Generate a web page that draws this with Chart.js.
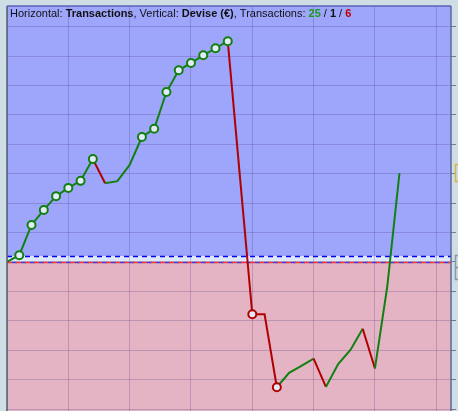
<!DOCTYPE html>
<html>
<head>
<meta charset="utf-8">
<script src="https://cdn.jsdelivr.net/npm/chart.js@4.4.1/dist/chart.umd.min.js"></script>
<style>
html,body{margin:0;padding:0;background:#cedee4;overflow:hidden;}
canvas{display:block;}
</style>
</head>
<body>
<canvas id="c" width="458" height="411"></canvas>
<script>
// Transaction index (horizontal axis)
const transactions = [0,1,2,3,4,5,6,7,8,9,10,11,12,13,14,15,16,17,18,19,20,21,22,23,24,25,26,27,28,29,30,31,32];
// Cumulative result in Devise (€) after each transaction
const equity = [0,23,126,177,224,252,276,350,268,275,330,425,453,578,652,677,703,727,751,286,-178,-178,-426,-377,-353,-329,-425,-347,-299,-227,-362,-85,302];
// Reference level (blue dashed line)
const referenceLevel = 20;
// Title summary: wins / break-even / losses
const titleParts = [
  {t:'Horizontal: ', b:false, c:'#111'},
  {t:'Transactions', b:true, c:'#111'},
  {t:', Vertical: ', b:false, c:'#111'},
  {t:'Devise (€)', b:true, c:'#111'},
  {t:', Transactions: ', b:false, c:'#111'},
  {t:'25', b:true, c:'#1a9a1a'},
  {t:' / ', b:false, c:'#111'},
  {t:'1', b:true, c:'#111'},
  {t:' / ', b:false, c:'#111'},
  {t:'6', b:true, c:'#c00000'}
];

const GREEN = '#118011';
const RED = '#b00000';

// markers: new running highs (green) and new running lows (red)
const markerType = equity.map((v, i) => {
  if (i === 0) return 0;
  const prev = equity.slice(0, i);
  if (v > Math.max(...prev)) return 1;
  if (v < Math.min(...prev)) return -1;
  return 0;
});

const bgPlugin = {
  id: 'bg',
  beforeDraw(chart) {
    const {ctx, chartArea:a} = chart;
    const y = chart.scales.y;
    const y0 = y.getPixelForValue(0);
    const yr = y.getPixelForValue(referenceLevel);
    ctx.save();
    ctx.fillStyle = '#cedee4';
    ctx.fillRect(0, 0, chart.width, chart.height);
    ctx.fillStyle = 'rgb(158,166,252)';
    ctx.fillRect(a.left, a.top, a.right - a.left, yr - a.top);
    ctx.fillStyle = 'rgb(222,232,250)';
    ctx.fillRect(a.left, yr, a.right - a.left, y0 - yr);
    ctx.fillStyle = 'rgb(228,180,196)';
    ctx.fillRect(a.left, y0, a.right - a.left, a.bottom - y0);
    ctx.restore();
  },
  beforeDatasetsDraw(chart) {
    const {ctx, chartArea:a} = chart;
    const y = chart.scales.y;
    const y0 = Math.round(y.getPixelForValue(0)) + 0.5;
    const yr = Math.round(y.getPixelForValue(referenceLevel)) + 0.5;
    ctx.save();
    ctx.lineWidth = 1.5;
    ctx.setLineDash([5,4]);
    ctx.strokeStyle = '#0000ee';
    ctx.beginPath(); ctx.moveTo(a.left, yr); ctx.lineTo(a.right, yr); ctx.stroke();
    ctx.strokeStyle = '#3b3bdc';
    ctx.lineDashOffset = 4;
    ctx.beginPath(); ctx.moveTo(a.left, y0); ctx.lineTo(a.right, y0); ctx.stroke();
    ctx.strokeStyle = '#ff3030';
    ctx.lineDashOffset = 0;
    ctx.beginPath(); ctx.moveTo(a.left, y0); ctx.lineTo(a.right, y0); ctx.stroke();
    ctx.restore();
  },
  afterDraw(chart) {
    const {ctx, chartArea:a} = chart;
    ctx.save();
    // borders
    ctx.lineWidth = 1.5;
    ctx.strokeStyle = '#55606e';
    ctx.beginPath(); ctx.moveTo(a.left, a.top); ctx.lineTo(a.left, chart.height); ctx.stroke();
    ctx.strokeStyle = '#5a62b8';
    ctx.beginPath(); ctx.moveTo(a.left, a.top); ctx.lineTo(a.right, a.top); ctx.stroke();
    ctx.strokeStyle = '#5a6a98';
    ctx.beginPath(); ctx.moveTo(a.right, a.top); ctx.lineTo(a.right, chart.height); ctx.stroke();
    // clipped value labels on the right edge
    const y = chart.scales.y;
    const yl = y.getPixelForValue(equity[equity.length - 1]);
    ctx.lineWidth = 1.5;
    ctx.strokeStyle = '#d8b440';
    ctx.fillStyle = '#cedee4';
    ctx.strokeRect(455.5, Math.round(yl) - 8.5, 12, 17);
    const y0 = y.getPixelForValue(0);
    ctx.strokeStyle = '#8a98a4';
    ctx.strokeRect(455.5, Math.round(y0) - 6.5, 12, 12);
    ctx.strokeRect(455.5, Math.round(y0) + 5.5, 12, 12);
    // title
    let x = 10;
    ctx.textBaseline = 'alphabetic';
    for (const p of titleParts) {
      ctx.font = (p.b ? 'bold ' : '') + '11px "Liberation Sans", Arial, sans-serif';
      ctx.fillStyle = p.c;
      ctx.fillText(p.t, x, 17);
      x += ctx.measureText(p.t).width;
    }
    ctx.restore();
  }
};

new Chart(document.getElementById('c'), {
  type: 'line',
  data: {
    datasets: [{
      data: transactions.map((t, i) => ({x: t, y: equity[i]})),
      borderWidth: 2,
      tension: 0,
      segment: {
        borderColor: c => c.p1.parsed.y > c.p0.parsed.y ? GREEN : RED
      },
      borderColor: GREEN,
      pointRadius: c => markerType[c.dataIndex] !== 0 ? 4 : 0,
      pointHoverRadius: c => markerType[c.dataIndex] !== 0 ? 4 : 0,
      pointBackgroundColor: '#e4eaf8',
      pointBorderColor: c => markerType[c.dataIndex] < 0 ? RED : GREEN,
      pointBorderWidth: 2
    }]
  },
  options: {
    responsive: false,
    animation: false,
    events: [],
    layout: { padding: { left: 7, top: 6, right: 2, bottom: 0 } },
    plugins: { legend: { display: false }, title: { display: false }, tooltip: { enabled: false } },
    scales: {
      x: {
        type: 'linear',
        min: 0, max: 36.2,
        position: 'bottom',
        ticks: { display: false, stepSize: 5, includeBounds: false },
        grid: { color: 'rgba(80,60,130,0.27)', drawTicks: false, lineWidth: 1 },
        border: { display: false }
      },
      y: {
        type: 'linear',
        min: -506.8, max: 870.7,
        position: 'right',
        ticks: { display: false, stepSize: 100, includeBounds: false },
        grid: { color: 'rgba(80,60,130,0.27)', drawTicks: true, tickLength: 5, tickColor: '#6f7f8c', lineWidth: 1 },
        border: { display: false }
      }
    }
  },
  plugins: [bgPlugin]
});
</script>
</body>
</html>
